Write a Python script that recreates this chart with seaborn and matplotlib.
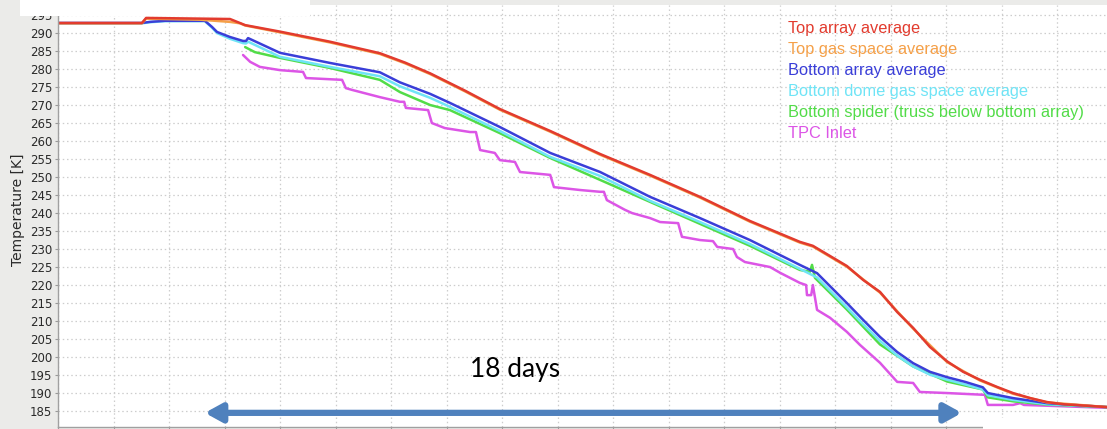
import numpy as np
import pandas as pd
import matplotlib
matplotlib.use("Agg")
import matplotlib.pyplot as plt
import matplotlib.patheffects as pe
from matplotlib.patches import Rectangle
from matplotlib.ticker import MultipleLocator, NullFormatter
import seaborn as sns

# ---------------- data: elapsed time [days] vs temperature [K] ----------------
top_array_days = [0, 2.00, 2.10, 4.10, 4.46, 5.29, 6.48, 7.67, 8.27, 8.87, 9.70, 10.53, 11.73,
                  12.92, 14.11, 15.30, 16.49, 17.68, 17.99, 18.80, 19.19, 19.59, 20.00, 20.38,
                  20.78, 21.19, 21.57, 21.97, 22.38, 22.76, 23.17, 23.57, 23.95, 24.36, 25.00]
top_array_temp = [292.7, 292.7, 294.1, 293.8, 292.1, 290.3, 287.5, 284.3, 281.7, 278.7, 273.9, 268.8, 262.7,
                  256.3, 250.5, 244.4, 237.7, 231.9, 230.8, 225.2, 221.3, 218.0, 212.4, 208.0,
                  202.7, 198.7, 195.8, 193.6, 191.6, 189.9, 188.5, 187.4, 186.8, 186.5, 186.0]

top_gas_days = [0, 2.00, 2.10, 3.40, 4.10, 4.34, 4.46, 5.29, 6.48, 7.67, 8.27, 8.87, 9.70, 10.53,
                11.73, 12.92, 14.11, 15.30, 16.49, 17.68, 17.99, 18.80, 19.59, 20.38, 21.19,
                21.97, 22.76, 23.57, 25.00]
top_gas_temp = [292.6, 292.6, 293.9, 293.6, 293.0, 292.6, 292.0, 290.1, 287.3, 284.1, 281.5, 278.5, 273.7, 268.6,
                262.5, 256.1, 250.3, 244.2, 237.5, 231.7, 230.6, 225.0, 217.8, 207.8, 198.5,
                193.4, 189.7, 187.3, 186.0]

bottom_array_days = [0, 2.00, 2.19, 2.55, 3.50, 3.67, 3.79, 4.10, 4.41, 4.48, 4.53, 5.29, 6.48,
                     7.67, 8.15, 8.87, 9.34, 10.53, 11.73, 12.92, 14.11, 15.30, 16.49, 17.68,
                     18.09, 18.80, 19.19, 19.59, 20.00, 20.38, 20.78, 21.19, 21.62, 22.04,
                     22.16, 22.76, 23.57, 25.00]
bottom_array_temp = [292.7, 292.7, 293.0, 293.3, 293.3, 291.6, 290.2, 288.8, 287.7, 287.7, 288.5, 284.4, 281.6,
                     279.0, 276.2, 273.0, 270.5, 263.8, 256.6, 251.3, 244.4, 238.5, 232.4, 225.5,
                     223.2, 214.9, 210.2, 205.5, 201.3, 198.2, 195.8, 194.3, 193.0, 191.5,
                     189.9, 188.5, 187.1, 186.0]

bottom_dome_days = bottom_array_days
bottom_dome_temp = [292.6, 292.6, 292.9, 293.2, 293.2, 291.4, 289.9, 288.3, 287.1, 287.0, 287.5, 283.3, 280.5,
                    277.9, 275.1, 271.9, 269.4, 262.7, 255.5, 250.2, 243.3, 237.4, 231.3, 224.4,
                    222.0, 213.7, 209.0, 204.4, 200.3, 197.3, 195.0, 193.6, 192.3, 190.9,
                    189.3, 188.0, 186.8, 186.0]

spider_days = [4.46, 4.69, 5.29, 6.48, 7.67, 8.15, 8.87, 9.34, 10.53, 11.73, 12.92, 14.11,
               15.30, 16.49, 17.68, 17.92, 17.97, 18.04, 18.80, 19.59, 20.38, 21.19, 22.04,
               22.16, 22.76, 23.57, 25.00]
spider_temp = [286.0, 284.6, 283.0, 280.2, 276.9, 273.5, 269.9, 268.5, 262.1, 255.2, 249.1, 243.0,
               236.9, 230.8, 224.1, 223.6, 225.5, 221.9, 213.1, 203.4, 197.3, 193.1, 190.9,
               188.7, 187.6, 186.7, 186.0]

tpc_inlet_days = [4.41, 4.58, 4.81, 5.29, 5.84, 5.91, 6.77, 6.86, 7.01, 7.67, 8.15, 8.25, 8.29,
                  8.82, 8.91, 9.22, 9.82, 9.96, 10.06, 10.41, 10.53, 10.89, 11.01, 11.73, 11.82,
                  12.44, 12.92, 13.01, 13.08, 13.51, 13.68, 14.11, 14.35, 14.78, 14.87, 15.30,
                  15.61, 15.71, 16.09, 16.18, 16.37, 16.97, 17.21, 17.68, 17.83, 17.85, 17.95,
                  17.99, 18.09, 18.40, 18.80, 19.11, 19.59, 20.00, 20.38, 20.54, 21.19, 22.09,
                  22.16, 22.76, 22.93, 23.02, 25.00]
tpc_inlet_temp = [283.8, 281.9, 280.5, 279.6, 279.1, 277.4, 276.9, 274.6, 274.1, 272.1, 270.8, 270.8, 269.1,
                  268.5, 264.9, 263.5, 262.4, 262.4, 257.4, 256.6, 254.6, 254.1, 251.3, 250.5, 247.1,
                  246.3, 245.8, 245.8, 243.5, 240.8, 239.9, 238.5, 237.4, 237.1, 233.3, 232.4,
                  232.1, 230.5, 229.9, 227.7, 226.3, 224.9, 223.3, 220.5, 219.9, 217.1, 217.1,
                  219.9, 213.0, 210.8, 206.9, 203.3, 198.3, 193.0, 192.7, 190.2, 189.9, 189.4,
                  186.6, 186.6, 187.1, 186.6, 185.8]

labels = ["Top array average", "Top gas space average", "Bottom array average",
          "Bottom dome gas space average", "Bottom spider (truss below bottom array)", "TPC Inlet"]
colors = ["#e23b2e", "#f5a048", "#3a3ed8", "#6fe4f6", "#52dc48", "#dc55e6"]
y_ticks = list(range(185, 300, 5))

series = [
    (labels[0], top_array_days, top_array_temp, colors[0]),
    (labels[1], top_gas_days, top_gas_temp, colors[1]),
    (labels[2], bottom_array_days, bottom_array_temp, colors[2]),
    (labels[3], bottom_dome_days, bottom_dome_temp, colors[3]),
    (labels[4], spider_days, spider_temp, colors[4]),
    (labels[5], tpc_inlet_days, tpc_inlet_temp, colors[5]),
]

# ---------------- figure ----------------
sns.set_style("white")
plt.rcParams["font.family"] = ["DejaVu Sans"]

W, H = 1107, 429
fig = plt.figure(figsize=(W / 100, H / 100), dpi=100, facecolor="#ebebe9")
ax = fig.add_axes([58 / W, 2 / H, 1 - 58 / W, 422 / H])
ax.set_facecolor("white")

# draw lower traces first so the warmer ones sit on top
for name, days, temp, col in reversed(series):
    df = pd.DataFrame({"day": days, "temp": temp})
    sns.lineplot(data=df, x="day", y="temp", ax=ax, color=col, lw=1.8,
                 estimator=None, sort=False, label=name)

ax.set_xlim(0, 25.0)
ax.set_ylim(180.47, 297.69)

ax.set_yticks(y_ticks)
ax.xaxis.set_major_locator(MultipleLocator(1.3227))
ax.xaxis.set_major_formatter(NullFormatter())
ax.set_xlabel("")
ax.set_ylabel("Temperature [K]", fontsize=10, color="#2a2a2a")
ax.yaxis.set_label_coords(-0.0315, 0.514)

ax.grid(True, color="#cdcdcd", linestyle=(0, (1.2, 2.2)), linewidth=0.9)
ax.set_axisbelow(True)
ax.tick_params(axis="y", length=2.2, width=0.8, color="#999999", labelsize=8.5,
               labelcolor="#2a2a2a", pad=2, left=True)
ax.tick_params(axis="x", length=2.5, width=0.8, color="#999999", bottom=True)
for s in ("top", "right"):
    ax.spines[s].set_visible(False)
for s in ("left", "bottom"):
    ax.spines[s].set_color("#a0a0a0")
    ax.spines[s].set_linewidth(1.0)

# legend: coloured labels only, in series order
handles, names = ax.get_legend_handles_labels()
lookup = dict(zip(names, handles))
ax.legend([lookup[n] for n in labels], labels, loc="upper left",
          bbox_to_anchor=(788 / W, 1 - 21 / H), bbox_transform=fig.transFigure,
          frameon=False, handlelength=0, handletextpad=0, borderpad=0,
          borderaxespad=0, labelspacing=0.37, labelcolor="linecolor",
          prop={"family": "Liberation Sans", "size": 11.8})

# duration arrow with label
arr = ax.annotate("", xy=(21.54, 184.4), xytext=(3.50, 184.4),
                  arrowprops=dict(arrowstyle="<|-|>,head_length=1.0,head_width=0.55",
                                  color="#4f81bd", lw=4.5, shrinkA=0, shrinkB=0,
                                  mutation_scale=10),
                  annotation_clip=False)
arr.arrow_patch.set_path_effects([
    pe.SimplePatchShadow(offset=(0.5, -2.5), shadow_rgbFace="#808080", alpha=0.35),
    pe.Normal()])
ax.text(10.89, 194.36, "18 days", fontsize=19, family="Lato", color="black",
        ha="center", va="baseline")

# overlay panels
fig.add_artist(Rectangle((20 / W, 1 - 15.5 / H), 290 / W, 15.5 / H,
                         transform=fig.transFigure, facecolor="white",
                         edgecolor="none", zorder=20))
fig.add_artist(Rectangle((983 / W, 0), (W - 983) / W, 11 / H,
                         transform=fig.transFigure, facecolor="white",
                         edgecolor="none", zorder=20))

fig.savefig("out.png", dpi=100, facecolor=fig.get_facecolor())
